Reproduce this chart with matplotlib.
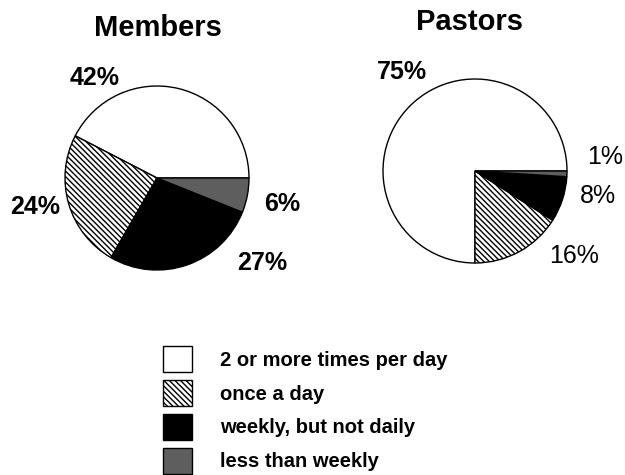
import matplotlib
matplotlib.use("Agg")
import matplotlib.pyplot as plt

plt.rcParams['font.family'] = ['Liberation Sans', 'DejaVu Sans']
plt.rcParams['hatch.linewidth'] = 1.0

categories = ["2 or more times per day", "once a day", "weekly, but not daily", "less than weekly"]
members = [42, 24, 27, 6]
pastors = [75, 16, 8, 1]
titles = ["Members", "Pastors"]

colors = ["white", "white", "black", "#5e5e5e"]
hatches = [None, "\\" * 6, None, None]

# label offsets (data units relative to pie centre) - style/layout only
members_lbl_pos = [(-0.674, 1.087), (-1.326, -0.315), (1.141, -0.924), (1.359, -0.283)]
pastors_lbl_pos = [(-0.793, 1.076), (1.076, -0.924), (1.337, -0.272), (1.413, 0.152)]
members_bold = [True, True, True, True]
pastors_bold = [True, False, False, False]

W, H = 625, 475
fig = plt.figure(figsize=(6.25, 4.75), dpi=100)

def add_pie(cx, cy, r, values, title, title_xy, lbl_pos, bold):
    ax = fig.add_axes([(cx - r) / W, 1 - (cy + r) / H, 2 * r / W, 2 * r / H])
    wedges, _ = ax.pie(values, colors=colors, startangle=0, counterclock=True,
                       wedgeprops=dict(edgecolor="black", linewidth=1.0))
    for w, h in zip(wedges, hatches):
        if h:
            w.set_hatch(h)
    ax.set_xlim(-1, 1)
    ax.set_ylim(-1, 1)
    ax.set_aspect("equal")
    ax.axis("off")
    for v, (x, y), b in zip(values, lbl_pos, bold):
        ax.text(x, y, f"{v}%", ha="center", va="center", fontsize=18,
                fontweight="bold" if b else "normal")
    fig.text(title_xy[0] / W, 1 - title_xy[1] / H, title, ha="center", va="center",
             fontsize=21, fontweight="bold")
    return wedges

wm = add_pie(157, 178, 92, members, titles[0], (158, 28), members_lbl_pos, members_bold)
add_pie(475, 171, 92, pastors, titles[1], (470, 22), pastors_lbl_pos, pastors_bold)

leg = fig.legend(wm, categories, loc="upper left",
                 bbox_to_anchor=(153 / W, 1 - 336 / H), frameon=False,
                 prop=dict(size=14.5, weight="bold"),
                 handlelength=1.45, handleheight=1.6, labelspacing=0.4,
                 handletextpad=1.4, borderpad=0.0)

fig.savefig("out.png", dpi=100)
